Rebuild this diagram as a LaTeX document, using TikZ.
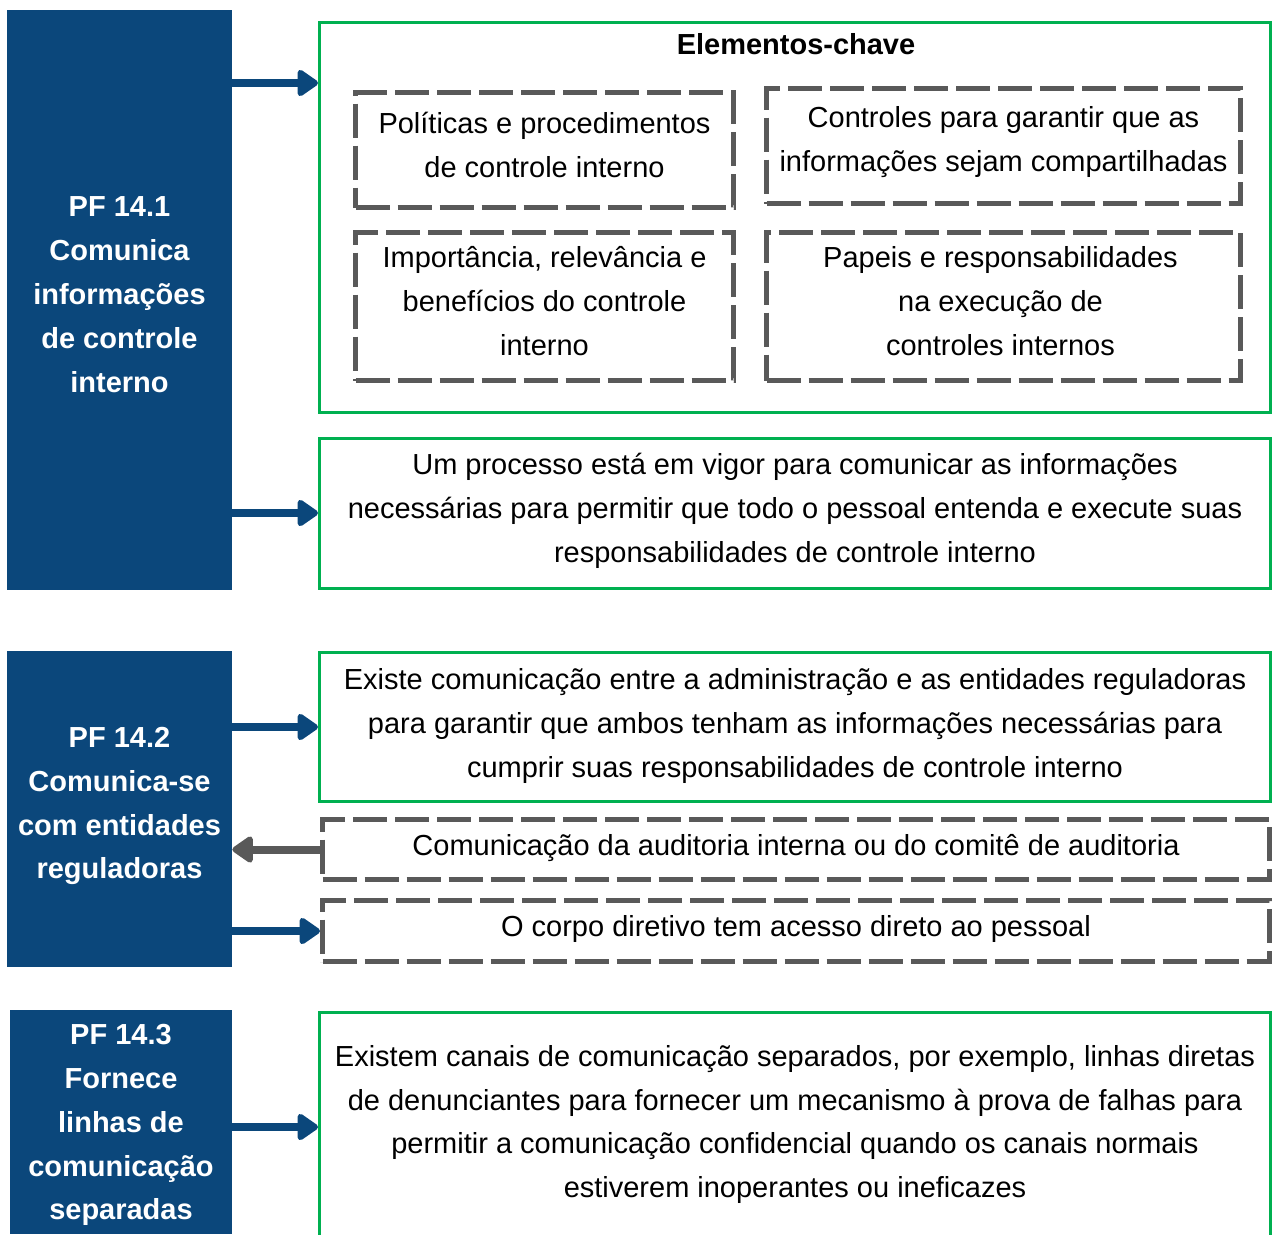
\documentclass[tikz,border=0pt]{standalone}
\usepackage{fontspec}
\setmainfont{Liberation Sans}
\usetikzlibrary{arrows.meta}
\newlength\pxu
\setlength\pxu{0.02cm}
\definecolor{pfblue}{HTML}{0B477B}
\definecolor{boxgreen}{HTML}{00B050}
\definecolor{dashgray}{HTML}{595959}

\begin{document}
\begin{tikzpicture}[x=0.02cm,y=-0.02cm,
  every node/.style={font=\fontsize{16.5}{25}\selectfont, align=center, inner sep=0pt},
  pfbox/.style={fill=pfblue},
  pftext/.style={text=white, font=\fontsize{16.5}{25}\selectfont\bfseries},
  greenbox/.style={draw=boxgreen, line width=3\pxu},
  dashbox/.style={draw=dashgray, line width=5\pxu, dash pattern=on 34\pxu off 8\pxu},
  arr/.style={line width=8\pxu, -{Triangle[length=13pt,width=17pt,round]}},
]
\useasboundingbox (0,0) rectangle (1274,1234);

% principle boxes and their titles
\node[pfbox, minimum width=225\pxu, minimum height=580\pxu] (pf1) at (119.5,300) {};
\node[pftext] (pf1t) at ([yshift=5\pxu]pf1.center)
  {PF 14.1\\Comunica\\informações\\de controle\\interno};
\node[pfbox, minimum width=225\pxu, minimum height=316\pxu] (pf2) at (119.5,809) {};
\node[pftext] (pf2t) at ([yshift=3\pxu]pf2.center)
  {PF 14.2\\Comunica-se\\com entidades\\reguladoras};
\node[pfbox, minimum width=222\pxu, minimum height=224\pxu] (pf3) at (121,1122) {};
\node[pftext] (pf3t) at ([yshift=-3\pxu]pf3.center)
  {PF 14.3\\Fornece\\linhas de\\comunicação\\separadas};

% key elements
\node[greenbox, minimum width=951\pxu, minimum height=390\pxu] (key) at (795,217.5) {};
\node (keytitle) at (796,44) {\bfseries Elementos-chave};
\node[dashbox, minimum width=378\pxu, minimum height=115\pxu] (d1) at (544.5,150) {};
\node (d1t) at ([yshift=5\pxu]d1.center) {Políticas e procedimentos\\de controle interno};
\node[dashbox, minimum width=474\pxu, minimum height=115\pxu] (d2) at (1003.5,146) {};
\node (d2t) at ([yshift=4\pxu]d2.center) {Controles para garantir que as\\informações sejam compartilhadas};
\node[dashbox, minimum width=378\pxu, minimum height=148\pxu] (d3) at (544.5,306.5) {};
\node (d3t) at ([yshift=5\pxu]d3.center) {Importância, relevância e\\benefícios do controle\\interno};
\node[dashbox, minimum width=474\pxu, minimum height=148\pxu] (d4) at (1003.5,306.5) {};
\node (d4t) at ([yshift=5\pxu,xshift=-3\pxu]d4.center) {Papeis e responsabilidades\\na execução de\\controles internos};

\node[greenbox, minimum width=951\pxu, minimum height=150\pxu] (proc) at (795,513) {};
\node (proct) at ([yshift=2\pxu]proc.center)
  {Um processo está em vigor para comunicar as informações\\necessárias para permitir que todo o pessoal entenda e execute suas\\responsabilidades de controle interno};

\node[greenbox, minimum width=951\pxu, minimum height=149\pxu] (reg) at (795,727) {};
\node (regt) at ([yshift=1\pxu]reg.center)
  {Existe comunicação entre a administração e as entidades reguladoras\\para garantir que ambos tenham as informações necessárias para\\cumprir suas responsabilidades de controle interno};
\node[dashbox, minimum width=947\pxu, minimum height=60\pxu] (d5) at (796,849.5) {};
\node (d5t) at ([yshift=1\pxu]d5.center) {Comunicação da auditoria interna ou do comitê de auditoria};
\node[dashbox, minimum width=947\pxu, minimum height=61\pxu] (d6) at (796,931) {};
\node (d6t) at ([yshift=2\pxu]d6.center) {O corpo diretivo tem acesso direto ao pessoal};

\node[greenbox, minimum width=951\pxu, minimum height=224\pxu] (sep) at (795,1124.5) {};
\node (sept) at (sep.center)
  {Existem canais de comunicação separados, por exemplo, linhas diretas\\de denunciantes para fornecer um mecanismo à prova de falhas para\\permitir a comunicação confidencial quando os canais normais\\estiverem inoperantes ou ineficazes};

% connectors
\coordinate (a1) at (0,83);
\coordinate (a5) at (0,1127);
\draw[arr, pfblue] (pf1.east |- a1) -- (key.west |- a1);
\draw[arr, pfblue] (pf1.east |- proc.west) -- (proc.west);
\draw[arr, pfblue] (pf2.east |- reg.west) -- (reg.west);
\draw[arr, dashgray] (d5.west) -- (pf2.east |- d5.west);
\draw[arr, pfblue] (pf2.east |- d6.west) -- (d6.west);
\draw[arr, pfblue] (pf3.east |- a5) -- (sep.west |- a5);
\end{tikzpicture}
\end{document}
